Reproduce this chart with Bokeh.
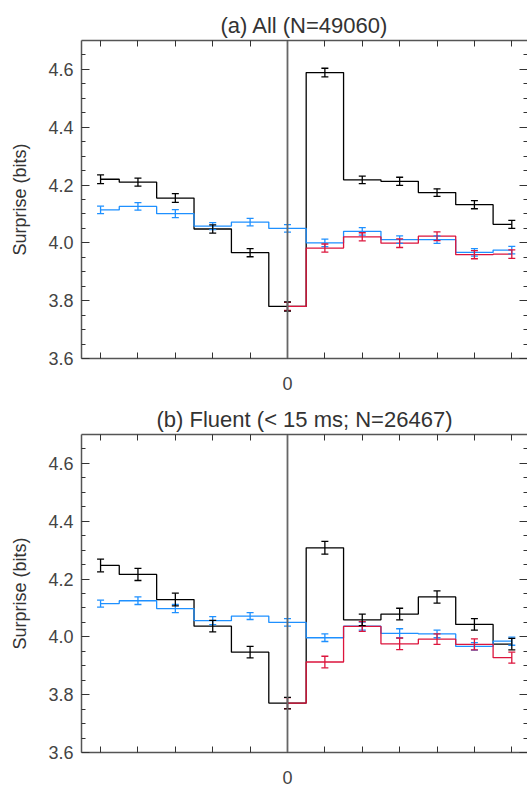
from bokeh.plotting import figure
from bokeh.models import (ColumnDataSource, Whisker, TeeHead, Span, LinearAxis,
                          FixedTicker, PrintfTickFormatter)
from bokeh.layouts import column
from bokeh.embed import file_html
from bokeh.resources import INLINE

# ---- data ----
lags = [-5, -4, -3, -2, -1, 0, 1, 2, 3, 4, 5, 6]
lags_red = [0, 1, 2, 3, 4, 5, 6]

a_black = [4.220, 4.210, 4.155, 4.048, 3.966, 3.780, 4.589, 4.218, 4.213, 4.174, 4.132, 4.064]
a_black_err = [0.015, 0.014, 0.015, 0.014, 0.014, 0.016, 0.015, 0.013, 0.014, 0.013, 0.014, 0.014]
a_blue = [4.114, 4.126, 4.101, 4.058, 4.072, 4.050, 4.000, 4.040, 4.011, 4.011, 3.967, 3.975]
a_blue_err = [0.013, 0.013, 0.014, 0.012, 0.013, 0.013, 0.013, 0.013, 0.013, 0.013, 0.013, 0.013]
a_red = [3.780, 3.982, 4.021, 3.999, 4.023, 3.959, 3.961]
a_red_err = [0.014, 0.014, 0.014, 0.015, 0.015, 0.014, 0.015]

b_black = [4.247, 4.216, 4.129, 4.037, 3.947, 3.771, 4.308, 4.059, 4.079, 4.138, 4.043, 3.975]
b_black_err = [0.022, 0.021, 0.022, 0.020, 0.020, 0.020, 0.022, 0.020, 0.020, 0.021, 0.020, 0.020]
b_blue = [4.115, 4.125, 4.098, 4.056, 4.072, 4.050, 3.997, 4.037, 4.012, 4.010, 3.967, 3.985]
b_blue_err = [0.012, 0.013, 0.014, 0.014, 0.012, 0.013, 0.013, 0.014, 0.016, 0.013, 0.013, 0.014]
b_red = [3.771, 3.913, 4.036, 3.976, 3.992, 3.974, 3.928]
b_red_err = [0.019, 0.020, 0.017, 0.020, 0.018, 0.019, 0.019]

y_ticks = [3.6, 3.8, 4.0, 4.2, 4.4, 4.6]
y_minor = [3.65, 3.7, 3.75, 3.85, 3.9, 3.95, 4.05, 4.1, 4.15, 4.25, 4.3, 4.35, 4.45, 4.5, 4.55, 4.65]
x_ticks = lags
x_label_ticks = [0]

titles = ["(a) All (N=49060)", "(b) Fluent (< 15 ms; N=26467)"]

BLACK = "#000000"
BLUE = "#1E90FF"
RED = "#DC143C"
FRAME = "#555555"
FONT = "Liberation Sans"


def style_axis(ax, labels=True):
    ax.axis_line_color = FRAME
    ax.axis_line_width = 1.5
    ax.major_tick_line_color = "#333333"
    ax.minor_tick_line_color = "#333333"
    ax.major_tick_out = 0
    ax.minor_tick_out = 0
    ax.major_label_text_font = FONT
    ax.major_label_text_color = "#444444"
    if not labels:
        ax.major_label_text_color = None
        ax.major_label_text_font_size = "1px"
        ax.major_label_standoff = 0


def add_err(p, xs, ys, es, color):
    src = ColumnDataSource(dict(x=xs, upper=[y + e for y, e in zip(ys, es)],
                                lower=[y - e for y, e in zip(ys, es)]))
    w = Whisker(source=src, base="x", upper="upper", lower="lower",
                line_color=color, line_width=1.3,
                upper_head=TeeHead(size=7, line_color=color, line_width=1.3),
                lower_head=TeeHead(size=7, line_color=color, line_width=1.3),
                level="glyph")
    p.add_layout(w)


def make_panel(title, black, black_err, blue, blue_err, red, red_err,
               height, b_top, b_bottom):
    p = figure(width=527, height=height, x_range=(-5.51, 6.42), y_range=(3.6, 4.7),
               output_backend="svg", toolbar_location=None, title=title,
               x_axis_type=None, y_axis_type=None,
               min_border_left=81, min_border_right=0,
               min_border_top=b_top, min_border_bottom=b_bottom)
    p.outline_line_color = None
    p.background_fill_color = "white"
    p.border_fill_color = "white"
    p.title.text_font = FONT
    p.title.text_font_style = "normal"
    p.title.text_font_size = "22px"
    p.title.text_color = "#333333"
    p.title.align = "center"
    p.title.standoff = 6

    # left axis
    ly = LinearAxis(ticker=FixedTicker(ticks=y_ticks, minor_ticks=y_minor),
                    formatter=PrintfTickFormatter(format="%.1f"))
    style_axis(ly)
    ly.major_tick_in = 8
    ly.minor_tick_in = 4
    ly.major_label_text_font_size = "18px"
    ly.major_label_standoff = 8
    ly.axis_label = "Surprise (bits)"
    ly.axis_label_text_font = FONT
    ly.axis_label_text_font_style = "normal"
    ly.axis_label_text_font_size = "18px"
    ly.axis_label_text_color = "#333333"
    ly.axis_label_standoff = 15
    p.add_layout(ly, "left")

    # right axis (ticks only; its frame line falls just outside the picture)
    ry = LinearAxis(ticker=FixedTicker(ticks=y_ticks, minor_ticks=y_minor))
    style_axis(ry, labels=False)
    ry.axis_line_color = None
    ry.major_tick_in = 8
    ry.minor_tick_in = 4
    p.add_layout(ry, "right")

    # bottom axis (ticks only)
    bx = LinearAxis(ticker=FixedTicker(ticks=x_ticks, minor_ticks=[]))
    style_axis(bx, labels=False)
    bx.major_tick_in = 6
    p.add_layout(bx, "below")

    # bottom label "0"
    bl = LinearAxis(ticker=FixedTicker(ticks=x_label_ticks, minor_ticks=[]))
    bl.axis_line_color = None
    bl.major_tick_line_color = None
    bl.major_tick_in = 0
    bl.major_tick_out = 0
    bl.major_label_text_font = FONT
    bl.major_label_text_font_size = "18px"
    bl.major_label_text_color = "#444444"
    bl.major_label_standoff = 18
    p.add_layout(bl, "below")

    # top axis (ticks only)
    tx = LinearAxis(ticker=FixedTicker(ticks=x_ticks, minor_ticks=[]))
    style_axis(tx, labels=False)
    tx.major_tick_in = 6
    p.add_layout(tx, "above")

    p.add_layout(Span(location=0, dimension="height", line_color="#666666", line_width=1.8))

    p.step(lags, black, mode="center", line_color=BLACK, line_width=1.3)
    p.step(lags, blue, mode="center", line_color=BLUE, line_width=1.3)
    p.step(lags_red, red, mode="center", line_color=RED, line_width=1.3)
    add_err(p, lags, blue, blue_err, BLUE)
    add_err(p, lags_red, red, red_err, RED)
    add_err(p, lags, black, black_err, BLACK)
    return p


p1 = make_panel(titles[0], a_black, a_black_err, a_blue, a_blue_err, a_red, a_red_err,
                396, 40, 38)
p2 = make_panel(titles[1], b_black, b_black_err, b_blue, b_blue_err, b_red, b_red_err,
                392, 38, 36)

layout = column(p1, p2, spacing=0)
open("out.html", "w").write(file_html(layout, INLINE))
